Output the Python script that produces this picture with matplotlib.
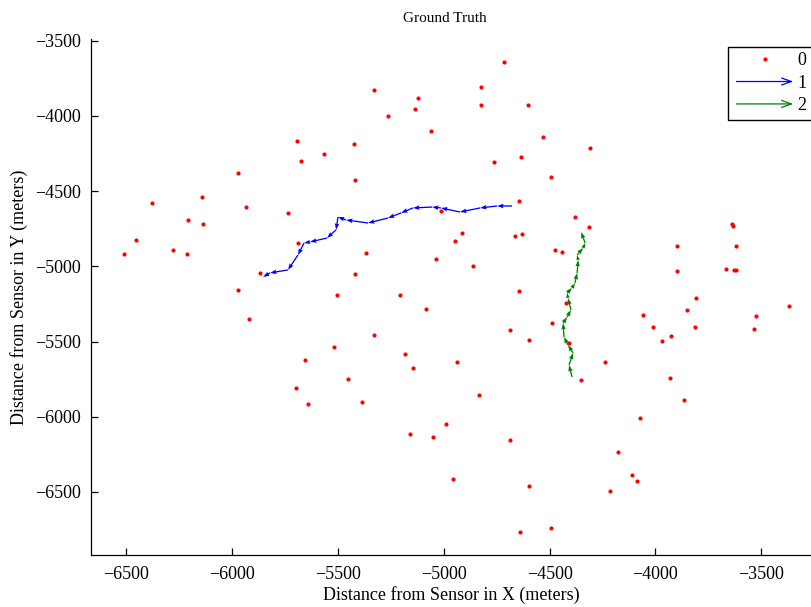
import numpy as np
import matplotlib
matplotlib.use("Agg")
import matplotlib.pyplot as plt
from matplotlib.lines import Line2D
from matplotlib.patches import FancyArrowPatch
from matplotlib.legend_handler import HandlerBase

plt.rcParams['font.family'] = ['Liberation Serif', 'DejaVu Serif']

# landmarks (series 0)
pts_x = [-5692, -5565, -5674, -5971, -6141, -6377, -5933, -5735, -6207, -6136,
         -6453, -5688, -6278, -6509, -6212, -5867, -5971,
         -4715, -5329, -4824, -5121, -5135, -4824, -4602, -5263, -5060, -4531,
         -5423, -4635, -4762, -4493, -5419, -4644, -5013, -4913, -4946, -4630,
         -4663, -4474, -4441, -5367, -5036, -4861, -5419, -4644, -5504, -5206,
         -4309, -4380, -4314, -3638, -3634, -3898, -3620, -3898, -3667, -3629,
         -3620, -3808,
         -5919, -5655, -5697, -5641,
         -5083, -4422, -5329, -5518, -4488, -4687, -4597, -5183, -4408, -4937,
         -5145, -5452, -5386, -4833, -4989, -5159, -5050, -4687, -4956, -4597,
         -4640, -4493,
         -3369, -4059, -3851, -3525, -4012, -3813, -3535, -3927, -3969, -4238,
         -4351, -3931, -3865, -4073, -4177, -4111, -4087, -4215]
pts_y = [-4167, -4253, -4300, -4380, -4539, -4579, -4606, -4645, -4692, -4719,
         -4825, -4845, -4891, -4918, -4918, -5044, -5157,
         -3642, -3828, -3808, -3881, -3954, -3927, -3927, -4001, -4100, -4140,
         -4187, -4273, -4306, -4406, -4426, -4566, -4632, -4778, -4832, -4785,
         -4798, -4891, -4905, -4911, -4951, -4998, -5051, -5164, -5191, -5191,
         -4213, -4672, -4739, -4719, -4732, -4865, -4865, -5031, -5018, -5024,
         -5024, -5211,
         -5350, -5623, -5809, -5915,
         -5284, -5244, -5457, -5536, -5377, -5423, -5490, -5583, -5510, -5636,
         -5676, -5749, -5902, -5855, -6048, -6115, -6135, -6155, -6414, -6460,
         -6766, -6740,
         -5264, -5324, -5290, -5330, -5403, -5403, -5417, -5463, -5496, -5636,
         -5756, -5742, -5889, -6008, -6234, -6387, -6427, -6494]

# track 1 (blue), in travel order
trk1_x = [-4677, -4748, -4828, -4923, -5013, -5055, -5145, -5201, -5263, -5357,
          -5461, -5499, -5508, -5551, -5631, -5659, -5688, -5735, -5820, -5853]
trk1_y = [-4599, -4599, -4612, -4639, -4612, -4606, -4612, -4645, -4679, -4712,
          -4692, -4672, -4758, -4812, -4838, -4845, -4925, -5024, -5044, -5071]

# track 2 (green), in travel order
trk2_x = [-4394, -4408, -4389, -4413, -4432, -4436, -4417, -4399, -4413, -4417,
          -4394, -4380, -4370, -4365, -4370, -4342, -4332, -4351]
trk2_y = [-5736, -5656, -5576, -5523, -5470, -5377, -5337, -5290, -5211, -5177,
          -5144, -5111, -5044, -4958, -4925, -4878, -4845, -4772]


class ArrowHandler(HandlerBase):
    def create_artists(self, legend, orig_handle, xdescent, ydescent,
                       width, height, fontsize, trans):
        y = height / 2 - ydescent
        a = FancyArrowPatch((-xdescent, y), (-xdescent + width, y),
                            arrowstyle='->,head_length=7,head_width=2.5',
                            mutation_scale=1, color=orig_handle.get_color(),
                            lw=0.9, transform=trans)
        return [a]


fig = plt.figure(figsize=(8.12, 6.07), dpi=100)
ax = fig.add_axes([91 / 812, 52 / 607, 721 / 812, 516 / 607])

ax.plot(pts_x, pts_y, 'o', color='red', markersize=3, markeredgewidth=0)

for tx, ty, c in [(trk1_x, trk1_y, 'blue'), (trk2_x, trk2_y, 'green')]:
    tx = np.array(tx, float)
    ty = np.array(ty, float)
    ax.quiver(tx[:-1], ty[:-1], np.diff(tx), np.diff(ty), angles='xy',
              scale_units='xy', scale=1, color=c, width=0.0018,
              headwidth=3.5, headlength=5, headaxislength=4.5)

ax.set_xlim(-6665, -3261)
ax.set_ylim(-6919, -3489)
ax.set_xticks([-6500, -6000, -5500, -5000, -4500, -4000, -3500])
ax.set_yticks([-6500, -6000, -5500, -5000, -4500, -4000, -3500])
ax.spines['top'].set_visible(False)
ax.spines['right'].set_visible(False)
for s in ['left', 'bottom']:
    ax.spines[s].set_linewidth(0.9)
ax.tick_params(direction='in', length=5, width=0.9, labelsize=13)
ax.tick_params(axis='x', pad=8)
ax.tick_params(axis='y', pad=7)

ax.set_title('Ground Truth', fontsize=11, pad=12, x=0.491)
ax.set_xlabel('Distance from Sensor in X (meters)', fontsize=13, labelpad=2)
ax.set_ylabel('Distance from Sensor in Y (meters)', fontsize=13, labelpad=5)

h0 = Line2D([], [], ls='none', marker='o', color='red', markersize=3,
            markeredgewidth=0)
h1 = Line2D([], [], color='blue')
h2 = Line2D([], [], color='green')
leg = fig.legend([h0, h1, h2], ['0', '1', '2'], loc='upper right',
                 bbox_to_anchor=(812 / 812, 1 - 47 / 607),
                 handler_map={h1: ArrowHandler(), h2: ArrowHandler()},
                 fontsize=13, fancybox=False, edgecolor='black',
                 framealpha=1, borderaxespad=0, handlelength=3.45,
                 handletextpad=0.08, labelspacing=0.3, borderpad=0.3,
                 numpoints=1)
leg.get_frame().set_linewidth(1.0)

fig.savefig('out.png', dpi=100)
